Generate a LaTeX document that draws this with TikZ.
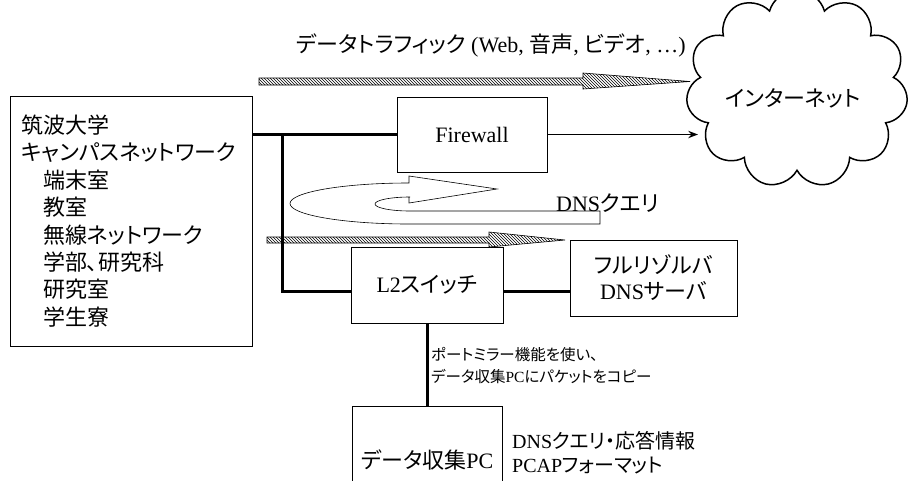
\documentclass[tikz,border=0pt]{standalone}
\usepackage{fontspec}
\setmainfont{Liberation Serif}
\newfontfamily\jp[RawFeature=+palt]{Noto Sans CJK JP}
\newcommand{\J}[1]{{\jp #1}}
\usetikzlibrary{shapes.symbols,patterns,arrows.meta}

\begin{document}
\begin{tikzpicture}[x=1pt,y=-1pt,>=Stealth,font=\fontsize{22}{27.4}\selectfont,
	box/.style={draw,line width=0.7pt,inner sep=0pt},
	lbl/.style={inner sep=0pt},
	bus/.style={line width=3pt},
	traffic/.style={draw,line width=0.6pt,pattern=north west lines},
	loop/.style={draw,line width=0.6pt,fill=white}]
%	\draw[help lines] (0,0) grid[step=50] (910,480);
	\useasboundingbox (0,0) rectangle (910,480);
	\node[box,minimum width=242pt,minimum height=250pt,text width=220pt,align=left] (campus) at (131,221)
		{\J{筑波大学}\\\J{キャンパスネットワーク}\\\hspace*{22pt}\J{端末室}\\\hspace*{22pt}\J{教室}\\
		\hspace*{22pt}\J{無線ネットワーク}\\\hspace*{22pt}\J{学部、研究科}\\\hspace*{22pt}\J{研究室}\\\hspace*{22pt}\J{学生寮}};
	\node[box,minimum width=150pt,minimum height=75pt] (fw) at (472,134.5) {Firewall};
	\node[box,minimum width=152pt,minimum height=76pt] (l2) at (427,285) {L2\J{スイッチ}};
	\node[box,minimum width=167pt,minimum height=76pt,align=center,font=\fontsize{22}{26}\selectfont] (resolver) at (653.5,278)
		{\J{フルリゾルバ}\\DNS\J{サーバ}};
	\node[box,minimum width=150pt,minimum height=108pt] (pc) at (427,460) {\J{データ収集}PC};
	\node[cloud,draw,line width=1.5pt,cloud puffs=11,aspect=1.36,inner sep=0pt,minimum width=222pt,minimum height=198pt] (inet) at (797,89) {};
	\node[lbl] (inetlbl) at ([shift={(-4,9)}]inet.center) {\J{インターネット}};
	\coordinate (inetin) at (698,134.5);
	\coordinate (bus) at (282,134.5);
	\coordinate (lan) at (282,291);
	% traffic arrows
	\path[traffic] (259,78)--(583,78)--(583,73)--(690,81.5)--(583,89)--(583,85)--(259,85)--cycle;
	\path[traffic] (267,237)--(489,237)--(489,232)--(565,240)--(489,247)--(489,243)--(267,243)--cycle;
	\path[loop] (600,211)--(410,211) arc[start angle=90,end angle=270,x radius=35,y radius=7]--(409,197)--(409,203)
		--(497,189)--(409,176)--(409,183) arc[start angle=270,end angle=90,x radius=119,y radius=20.5]--(600,224)--cycle;
	% links
	\draw[bus] (campus.east |- fw.west)--(fw.west);
	\draw[bus] (bus)--(lan)--(lan -| l2.west);
	\draw[bus] (l2.east |- lan)--(resolver.west |- lan);
	\draw[bus] (l2.south)--(pc.north);
	\draw[line width=1.5pt,->] (fw.east)--(inetin);
	% labels
	\node[lbl] (trafficlbl) at (491,45) {\J{データトラフィック} (Web, \J{音声}, \J{ビデオ}, …)};
	\node[lbl,anchor=west] (query) at (556,203) {DNS\J{クエリ}};
	\node[lbl,anchor=west,align=left,font=\fontsize{15.5}{22}\selectfont] (mirror) at (431,366)
		{\J{ポートミラー機能を使い、}\\\J{データ収集}PC\J{にパケットをコピー}};
	\node[lbl,anchor=west,align=left,font=\fontsize{20}{24}\selectfont] (pcap) at (512,453)
		{DNS\J{クエリ・応答情報}\\PCAP\J{フォーマット}};
\end{tikzpicture}
\end{document}
